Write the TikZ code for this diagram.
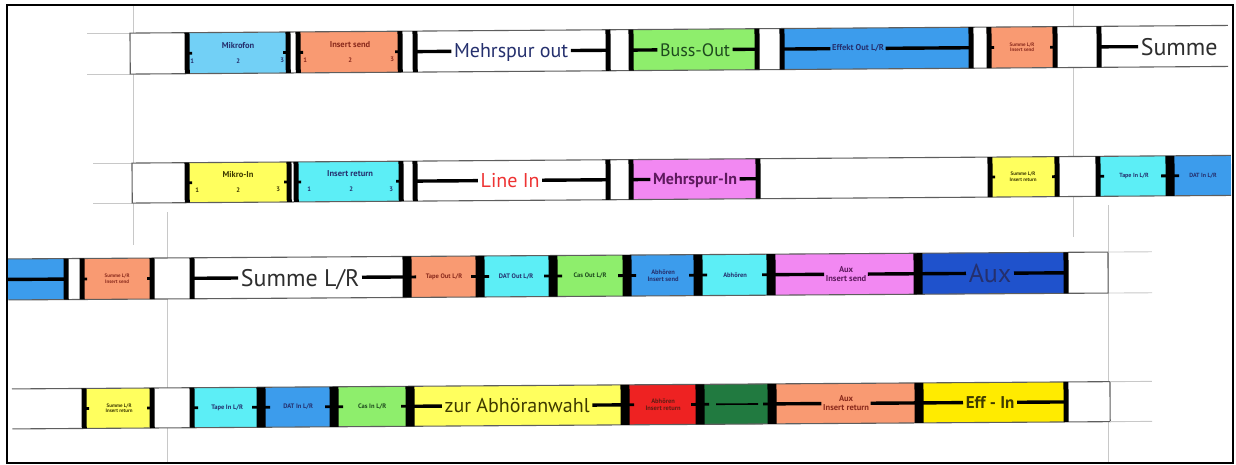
\documentclass[tikz,border=0pt]{standalone}
\usepackage{fontspec}
\setmainfont{PT Sans}
\definecolor{skyb}{HTML}{72D0F6}
\definecolor{salm}{HTML}{F99A72}
\definecolor{lime}{HTML}{8EEE6C}
\definecolor{midb}{HTML}{3C9CEC}
\definecolor{lemon}{HTML}{FFFF5E}
\definecolor{cyanl}{HTML}{5CEEF6}
\definecolor{orchid}{HTML}{F288F2}
\definecolor{deepb}{HTML}{1F52CC}
\definecolor{signal}{HTML}{EE2222}
\definecolor{forest}{HTML}{217A40}
\definecolor{gold}{HTML}{FFEB00}
\definecolor{guide}{HTML}{C8C8C8}
\definecolor{rimc}{HTML}{5E5E5E}
\definecolor{navy}{HTML}{25306E}
\definecolor{wine}{HTML}{8A2A1C}
\definecolor{olive}{HTML}{3E3A00}
\definecolor{pine}{HTML}{1E4A1E}
\definecolor{plum}{HTML}{5E1A5E}
\definecolor{scarlet}{HTML}{EE3333}
\definecolor{ink}{HTML}{2E2E2E}

\begin{document}
\begin{tikzpicture}[x=1pt,y=-1pt,
  barline/.style={line width=5pt},
  joint/.style={line width=9pt},
  stub/.style={line width=2.8pt},
  tie/.style={line width=3.4pt},
  rim/.style={draw=rimc,line width=1.1pt},
  guideline/.style={draw=guide,line width=.9pt},
  micro/.style={font=\fontsize{5}{5.6}\selectfont\bfseries,align=center,inner sep=0pt},
  minor/.style={font=\fontsize{6.5}{7.2}\selectfont\bfseries,align=center,inner sep=0pt},
  label8/.style={font=\fontsize{8.5}{9}\selectfont\bfseries,align=center,inner sep=1.5pt},
  major/.style={inner sep=2.5pt,text depth=0pt}]
  \useasboundingbox (0,0) rectangle (1236,465);
  % cutting guides
  \draw[guideline] (133,5) -- (133,245) (167,212) -- (167,463)
    (1073,5) -- (1073,237) (1108,205) -- (1108,463)
    (87,33) -- (130,33) (87,74) -- (130,74)
    (93,163) -- (132,163) (93,203) -- (132,203);

  % strip 1: outputs
  \begin{scope}[shift={(0,34)},rotate=0.4]
    \fill[white] (130,0) rectangle (1228,41);
    \foreach \a/\b/\c in {185/290/skyb,298/401/salm,631/758/lime,780/971/midb,987/1056/salm}
      \fill[\c] (\a,0) rectangle (\b,41);
    \draw[rim] (1228,0) -- (130,0) -- (130,41) -- (1228,41);
    \foreach \x in {187,288,298,400,415,608,631,757,782,971,989,1055,1099}
      \draw[barline] (\x,0) -- (\x,41);
    \foreach \x/\d in {187/5,288/-5,298/5,400/-5,989/5,1055/-5}
      \draw[stub] (\x,20.5) -- ++(\d,0);
    \node[label8,text=navy] (mic) at (238,13) {Mikrofon};
    \foreach \x/\n in {192/1,238/2,282/3}
      \node[minor,text=navy] (mic\n) at (\x,28.5) {\n};
    \node[label8,text=wine] (isd) at (350,13) {Insert send};
    \foreach \x/\n in {305/1,350/2,392/3}
      \node[minor,text=wine] (isd\n) at (\x,28.5) {\n};
    \node[major,text=navy,font=\fontsize{20}{20}\selectfont] (mout) at (511,20.5) {Mehrspur out};
    \node[major,text=pine,font=\fontsize{18}{18}\selectfont] (bout) at (695,20.5) {Buss-Out};
    \node[label8,text=navy] (eout) at (858,20.5) {Effekt Out L/R};
    \node[micro,text=wine] (sls1) at (1022,20.5) {Summe L/R\\Insert send};
    \node[major,text=ink,font=\fontsize{24}{24}\selectfont,anchor=west] (sum1) at (1138,20.5) {Summe};
    \draw[tie] (415,20.5) -- (mout);
    \draw[tie] (mout) -- (608,20.5);
    \draw[tie] (631,20.5) -- (bout);
    \draw[tie] (bout) -- (757,20.5);
    \draw[tie] (782,20.5) -- (eout);
    \draw[tie] (eout) -- (971,20.5);
    \draw[tie] (1099,20.5) -- (sum1);
  \end{scope}

  % strip 2: inputs
  \begin{scope}[shift={(0,164)},rotate=0.4]
    \fill[white] (132,0) rectangle (1231,40);
    \foreach \a/\b/\c in {187/290/lemon,296/402/cyanl,631/758/orchid,990/1057/lemon,1098/1170/cyanl,1170/1231/midb}
      \fill[\c] (\a,0) rectangle (\b,40);
    \draw[rim] (1231,0) -- (132,0) -- (132,40) -- (1231,40);
    \foreach \x in {187,289,296,401,415,608,631,758,990,1057,1098}
      \draw[barline] (\x,0) -- (\x,40);
    \draw[joint] (1170,0) -- (1170,40);
    \foreach \x/\d in {187/5,289/-5,296/5,401/-5,990/5,1057/-5,1098/6,1170/9,1170/-9}
      \draw[stub] (\x,20) -- ++(\d,0);
    \node[label8,text=olive] (mki) at (238,12.5) {Mikro-In};
    \foreach \x/\n in {197/1,238/2,278/3}
      \node[minor,text=olive] (mki\n) at (\x,27.5) {\n};
    \node[label8,text=navy] (irt) at (350,12.5) {Insert return};
    \foreach \x/\n in {309/1,351/2,391/3}
      \node[minor,text=navy] (irt\n) at (\x,27.5) {\n};
    \node[major,text=scarlet,font=\fontsize{20}{20}\selectfont] (lin) at (510,20) {Line In};
    \node[major,text=plum,font=\fontsize{16}{16}\selectfont\bfseries] (mpi) at (695,20) {Mehrspur-In};
    \node[micro,text=olive] (slr2) at (1023,20) {Summe L/R\\Insert return};
    \node[minor,text=navy,font=\fontsize{6}{6}\selectfont\bfseries] (ti2) at (1134,20) {Tape In L/R};
    \node[minor,text=navy,font=\fontsize{6}{6}\selectfont\bfseries] (di2) at (1203,20) {DAT In L/R};
    \draw[tie] (415,20) -- (lin);
    \draw[tie] (lin) -- (608,20);
    \draw[tie] (631,20) -- (mpi);
    \draw[tie] (mpi) -- (758,20);
  \end{scope}

  % strip 3: sums and monitoring out
  \begin{scope}[shift={(0,259)},rotate=0.36]
    \fill[white] (8,0) rectangle (1108,41);
    \foreach \a/\b/\c in {8/66/midb,82/152/salm,407/480/salm,480/553/cyanl,553/627/lime,627/698/midb,698/771/cyanl,771/918/orchid,918/1066/deepb}
      \fill[\c] (\a,0) rectangle (\b,41);
    \draw[rim] (8,0) -- (1108,0) -- (1108,41) -- (8,41);
    \draw[guideline] (1108,0) -- (1152,0) (1108,41) -- (1152,41);
    \foreach \x in {66,82,152,192,1066}
      \draw[barline] (\x,0) -- (\x,41);
    \foreach \x in {407,480,553,627,698,771,918}
      \draw[joint] (\x,0) -- (\x,41);
    \foreach \x/\d in {82/5,152/-5,407/9,480/-9,480/9,553/-9,553/9,627/-9,627/9,698/-9,698/9,771/-9}
      \draw[stub] (\x,20.5) -- ++(\d,0);
    \draw[tie] (8,20.5) -- (66,20.5);
    \node[micro,text=wine] (sls3) at (117,20.5) {Summe L/R\\Insert send};
    \node[major,text=ink,font=\fontsize{24}{24}\selectfont] (slr3) at (300,20.5) {Summe L/R};
    \node[minor,text=wine] (tpo) at (444,20.5) {Tape Out L/R};
    \node[minor,text=navy] (dto) at (516,20.5) {DAT Out L/R};
    \node[minor,text=pine] (cso) at (590,20.5) {Cas Out L/R};
    \node[minor,text=navy] (abs) at (663,20.5) {Abhören\\Insert send};
    \node[minor,text=navy] (abh) at (735,20.5) {Abhören};
    \node[label8,text=plum] (axs) at (846,20.5) {Aux\\Insert send};
    \node[major,text=navy,font=\fontsize{26}{26}\selectfont] (aux) at (990,20.5) {Aux};
    \draw[tie] (192,20.5) -- (slr3);
    \draw[tie] (slr3) -- (407,20.5);
    \draw[tie] (771,20.5) -- (axs);
    \draw[tie] (axs) -- (918,20.5);
    \draw[tie] (918,20.5) -- (aux);
    \draw[tie] (aux) -- (1066,20.5);
  \end{scope}

  % strip 4: returns and monitoring in
  \begin{scope}[shift={(0,389)},rotate=0.38]
    \fill[white] (12,0) rectangle (1110,40);
    \foreach \a/\b/\c in {84/152/lemon,192/261/cyanl,261/334/midb,334/410/lime,410/625/lemon,625/700/signal,700/772/forest,772/919/salm,919/1066/gold}
      \fill[\c] (\a,0) rectangle (\b,40);
    \draw[rim] (12,0) -- (1110,0) -- (1110,40) -- (12,40);
    \draw[guideline] (1110,0) -- (1152,0) (1110,40) -- (1152,40);
    \foreach \x in {84,152,192,1066}
      \draw[barline] (\x,0) -- (\x,40);
    \foreach \x in {261,334,410,625,700,772,919}
      \draw[joint] (\x,0) -- (\x,40);
    \foreach \x/\d in {84/5,152/-5,192/6,261/-9,261/9,334/-9,334/9,410/-9,625/9,700/-9,700/9,772/-9}
      \draw[stub] (\x,20) -- ++(\d,0);
    \draw[line width=1.6pt] (716,20) -- (758,20);
    \node[micro,text=olive] (slr4) at (119,20) {Summe L/R\\Insert return};
    \node[minor,text=navy] (ti4) at (227,20) {Tape In L/R};
    \node[minor,text=navy] (di4) at (298,20) {DAT In L/R};
    \node[minor,text=pine] (ci4) at (372,20) {Cas In L/R};
    \node[major,text=olive,font=\fontsize{20}{20}\selectfont] (zab) at (517,20) {zur Abhöranwahl};
    \node[minor,text=wine!70!black] (abr) at (663,20) {Abhören\\Insert return};
    \node[label8,text=wine] (axr) at (846,20) {Aux\\Insert return};
    \node[major,text=olive,font=\fontsize{17}{17}\selectfont\bfseries] (eff) at (990,20) {Eff - In};
    \draw[tie] (410,20) -- (zab);
    \draw[tie] (zab) -- (625,20);
    \draw[tie] (772,20) -- (axr);
    \draw[tie] (axr) -- (919,20);
    \draw[tie] (919,20) -- (eff);
    \draw[tie] (eff) -- (1066,20);
  \end{scope}

  % sheet border
  \draw[line width=2.6pt] (7,5) rectangle (1233,463);
\end{tikzpicture}
\end{document}
